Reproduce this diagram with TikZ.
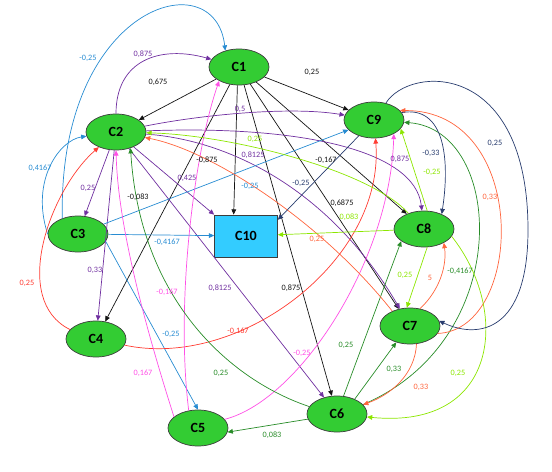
\documentclass[tikz,border=0pt]{standalone}
\usepackage{fontspec}
\setmainfont{Carlito}
\usetikzlibrary{arrows.meta,shapes.geometric}
\definecolor{cmgreen}{RGB}{51,204,51}
\definecolor{cmcyan}{RGB}{51,204,255}
\definecolor{cmline}{RGB}{60,60,60}
\definecolor{cmblack}{RGB}{20,20,20}
\definecolor{cmpurple}{RGB}{112,48,160}
\definecolor{cmblue}{RGB}{40,140,210}
\definecolor{cmred}{RGB}{255,60,50}
\definecolor{cmpink}{RGB}{255,80,230}
\definecolor{cmdgreen}{RGB}{40,140,40}
\definecolor{cmorange}{RGB}{255,100,60}
\definecolor{cmlgreen}{RGB}{140,230,0}
\definecolor{cmnavy}{RGB}{40,60,110}

\begin{document}
\begin{tikzpicture}[
  x=0.03cm, y=-0.03cm,
  >={Triangle[length=4.5pt,width=4pt]},
  concept/.style={ellipse, draw=cmline, fill=cmgreen, line width=0.6pt, inner sep=0pt,
                  minimum width=1.8cm, minimum height=1.08cm,
                  font=\fontsize{12}{14}\selectfont\bfseries},
  output/.style={rectangle, draw=cmline, fill=cmcyan, line width=0.6pt, inner sep=0pt,
                 minimum width=1.89cm, minimum height=1.26cm,
                 font=\fontsize{12}{14}\selectfont\bfseries},
  wt/.style={font=\fontsize{7}{8}\selectfont, inner sep=0.5pt},
  src1/.style={->, line width=0.6pt, draw=cmblack},
  src2/.style={->, line width=0.6pt, draw=cmpurple},
  src3/.style={->, line width=0.6pt, draw=cmblue},
  src4/.style={->, line width=0.6pt, draw=cmred},
  src5/.style={->, line width=0.6pt, draw=cmpink},
  src6/.style={->, line width=0.6pt, draw=cmdgreen},
  src7/.style={->, line width=0.6pt, draw=cmorange},
  src8/.style={->, line width=0.6pt, draw=cmlgreen},
  src9/.style={->, line width=0.6pt, draw=cmnavy}
]
\useasboundingbox (0,0) rectangle (552,472);

\node[concept] (c1) at (239,67) {C1};
\node[concept] (c2) at (116,132) {C2};
\node[concept] (c3) at (78,234) {C3};
\node[concept] (c4) at (96,339) {C4};
\node[concept] (c5) at (198,428) {C5};
\node[concept] (c6) at (337,414) {C6};
\node[concept] (c7) at (410,326) {C7};
\node[concept] (c8) at (424,229) {C8};
\node[concept] (c9) at (374,120) {C9};
\node[output] (c10) at (246,236) {C10};

% C1
\draw[src1] (c1) -- (c2);
\draw[src1] (c1) -- (c9);
\draw[src1] (c1) -- (c4);
\draw[src1] (c1.265) -- (c10.120);
\draw[src1] (c1) -- (c6);
\draw[src1] (c1) -- (c7);
\draw[src1] (c1) -- (c8);

% C2
\draw[src2] (c2) .. controls (116,60) and (160,45) .. (c1);
\draw[src2] (c2) .. controls (200,115) and (290,106) .. (c9);
\draw[src2] (c2) .. controls (300,125) and (415,150) .. (c8);
\draw[src2] (c2) .. controls (230,140) and (330,190) .. (c7);
\draw[src2] (c2) -- (c10.north west);
\draw[src2] (c2) -- (c6);
\draw[src2] (c2) -- (c3);
\draw[src2] (c2) -- (c4);

% C3
\draw[src3] (c3.135) .. controls (58,5) and (215,-40) .. (c1.130);
\draw[src3] (c3.west) .. controls (30,180) and (60,140) .. (c2);
\draw[src3] (c3) -- (c10);
\draw[src3] (c3) -- (c9);
\draw[src3] (c3.-15) -- (c5.north);

% C4
\draw[src4] (c4.160) .. controls (10,300) and (50,190) .. (c2);
\draw[src4] (c4) .. controls (240,370) and (385,260) .. (c9);

% C5
\draw[src5] (c5.118) .. controls (175,300) and (195,150) .. (c1.215);
\draw[src5] (c5.155) .. controls (140,310) and (118,220) .. (c2.south);
\draw[src5] (c5.18) .. controls (300,400) and (390,260) .. (c9.-35);

% C6
\draw[src6] (c6.190) -- (c5.-8);
\draw[src6] (c6.165) .. controls (230,380) and (140,300) .. (c2.-48);
\draw[src6] (c6.40) -- (c7.230);
\draw[src6] (c6.70) -- (c8.208);
\draw[src6] (c6.20) .. controls (515,340) and (505,130) .. (c9);

% C7
\draw[src7] (c7.140) .. controls (320,220) and (210,150) .. (c2);
\draw[src7] (c7.-70) .. controls (415,375) and (390,395) .. (c6);
\draw[src7] (c7.60) .. controls (440,290) and (447,265) .. (c8.-35);
\draw[src7] (c7.-15) .. controls (525,330) and (530,110) .. (c9.20);

% C8
\draw[src8] (c8.135) .. controls (370,170) and (230,135) .. (c2);
\draw[src8] (c8.80) -- (c9.-18);
\draw[src8] (c8) -- (c10);
\draw[src8] (c8.-80) -- (c7.100);
\draw[src8] (c8.-15) .. controls (510,310) and (500,430) .. (c6);

% C9
\draw[src9] (c9) -- (c10.27);
\draw[src9] (c9.15) .. controls (445,105) and (450,160) .. (c8.40);
\draw[src9] (c9.55) .. controls (410,65) and (528,60) .. (528,230)
  .. controls (528,330) and (480,340) .. (c7.10);

% weights
\node[wt, text=cmblack] (w1a) at (158,82) {0,675};
\node[wt, text=cmblack] (w1b) at (312,72) {0,25};
\node[wt, text=cmblack] (w1c) at (207,160) {-0,875};
\node[wt, text=cmblack] (w1d) at (326,160) {-0,167};
\node[wt, text=cmblack] (w1e) at (342,203) {0,6875};
\node[wt, text=cmblack] (w1f) at (138,197) {-0,083};
\node[wt, text=cmblack] (w1g) at (291,288) {0,875};

\node[wt, text=cmpurple] (w2a) at (143,54) {0,875};
\node[wt, text=cmpurple] (w2b) at (240,109) {0,5};
\node[wt, text=cmpurple] (w2c) at (253,155) {0,8125};
\node[wt, text=cmpurple] (w2d) at (187,178) {0,425};
\node[wt, text=cmpurple] (w2e) at (400,159) {0,875};
\node[wt, text=cmpurple] (w2f) at (88,188) {0,25};
\node[wt, text=cmpurple] (w2g) at (95,270) {0,33};
\node[wt, text=cmpurple] (w2h) at (220,288) {0,8125};

\node[wt, text=cmblue] (w3a) at (88,58) {-0,25};
\node[wt, text=cmblue] (w3b) at (250,186) {-0,25};
\node[wt, text=cmblue] (w3c) at (40,168) {0,4167};
\node[wt, text=cmblue] (w3d) at (167,242) {-0,4167};
\node[wt, text=cmblue] (w3e) at (171,334) {-0,25};

\node[wt, text=cmred] (w4a) at (27,283) {0,25};
\node[wt, text=cmred] (w4b) at (238,331) {-0,167};

\node[wt, text=cmpink] (w5a) at (167,292) {-0,167};
\node[wt, text=cmpink] (w5b) at (143,373) {0,167};
\node[wt, text=cmpink] (w5c) at (302,353) {-0,25};

\node[wt, text=cmdgreen] (w6a) at (221,373) {0,25};
\node[wt, text=cmdgreen] (w6b) at (272,435) {0,083};
\node[wt, text=cmdgreen] (w6c) at (346,345) {0,25};
\node[wt, text=cmdgreen] (w6d) at (394,369) {0,33};
\node[wt, text=cmdgreen] (w6e) at (460,271) {-0,4167};

\node[wt, text=cmorange] (w7a) at (317,239) {0,25};
\node[wt, text=cmorange] (w7b) at (490,197) {0,33};
\node[wt, text=cmorange] (w7c) at (421,387) {0,33};
\node[wt, text=cmorange] (w7d) at (430,278) {5};

\node[wt, text=cmlgreen] (w8a) at (255,139) {0,25};
\node[wt, text=cmlgreen] (w8b) at (432,172) {-0,25};
\node[wt, text=cmlgreen] (w8c) at (349,217) {0,083};
\node[wt, text=cmlgreen] (w8d) at (458,373) {0,25};
\node[wt, text=cmlgreen] (w8e) at (405,275) {0,25};

\node[wt, text=cmnavy] (w9a) at (301,183) {-0,25};
\node[wt, text=cmnavy] (w9b) at (431,153) {-0,33};
\node[wt, text=cmnavy] (w9c) at (495,143) {0,25};
\end{tikzpicture}
\end{document}
